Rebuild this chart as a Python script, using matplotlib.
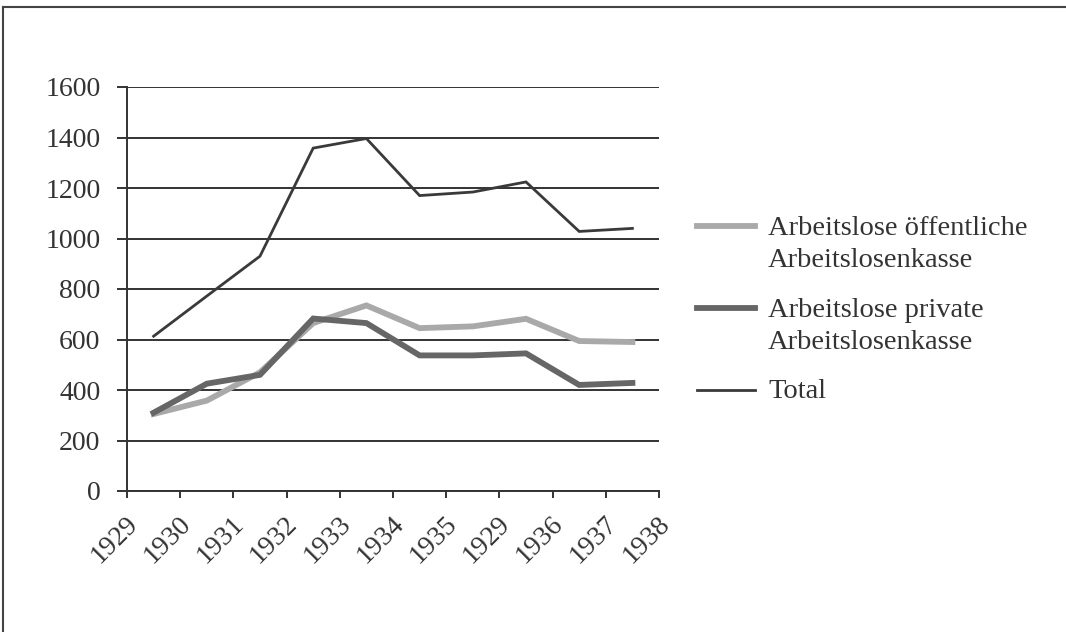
import numpy as np
import matplotlib
matplotlib.use("Agg")
import matplotlib.pyplot as plt
from matplotlib.lines import Line2D
from matplotlib.transforms import ScaledTranslation

# values (thousands); one point per category
tick_labels = ["1929", "1930", "1931", "1932", "1933", "1934", "1935",
               "1929", "1936", "1937", "1938"]
public = [305, 358, 470, 665, 735, 645, 652, 682, 594, 590]
private = [310, 425, 460, 683, 665, 537, 537, 545, 420, 428]
total = [613, 772, 930, 1358, 1396, 1170, 1184, 1224, 1028, 1040]

series_names = [["Arbeitslose öffentliche", "Arbeitslosenkasse"],
                ["Arbeitslose private", "Arbeitslosenkasse"],
                ["Total"]]
colors = ["#a9a9a9", "#666666", "#3a3a3a"]
widths = [4.2, 4.2, 2.0]

plt.rcParams["font.family"] = ["Liberation Serif", "DejaVu Serif"]
text_col = "#333333"

W, H = 1066, 632
fig = plt.figure(figsize=(W / 100, H / 100), dpi=100)
ax = fig.add_axes([127 / W, 1 - 491 / H, 532 / W, 404 / H])

x = np.arange(len(total)) + 0.5
for vals, c, lw in zip([public, private, total], colors, widths):
    ax.plot(x, vals, color=c, lw=lw, solid_joinstyle="miter", zorder=3)

ax.set_xlim(0, len(tick_labels) - 1)
ax.set_ylim(0, 1600)
ax.set_yticks(np.arange(0, 1601, 200))
ax.set_xticks(np.arange(len(tick_labels)))
ax.set_xticklabels([])
# rotated year labels, ending a little right of each tick
lbl_trans = ax.get_xaxis_transform() + ScaledTranslation(7 / 100, -29 / 100,
                                                         fig.dpi_scale_trans)
for i, lbl in enumerate(tick_labels):
    ax.text(i, 0, lbl, transform=lbl_trans, rotation=45, rotation_mode="anchor",
            ha="right", va="center", fontsize=20, color=text_col)
ax.yaxis.grid(True, color="#333333", lw=1.4)
ax.set_axisbelow(True)
for s in ["top", "right"]:
    ax.spines[s].set_visible(False)
for s in ["left", "bottom"]:
    ax.spines[s].set_color("#333333")
    ax.spines[s].set_linewidth(1.4)
ax.tick_params(axis="y", length=7, width=1.4, color="#333333",
               labelsize=20, labelcolor=text_col, pad=12)
ax.tick_params(axis="x", length=5, width=1.4, color="#333333")

# legend drawn by hand so the marker sits on the first text line
handle_y = [226, 308, 390]
base_y = [235, 317, 398]
line_step = 32
for lines, c, lw, hy, by in zip(series_names, colors, widths, handle_y, base_y):
    fig.add_artist(Line2D([697 / W, 755 / W], [1 - hy / H, 1 - hy / H],
                          color=c, lw=lw, transform=fig.transFigure))
    for i, txt in enumerate(lines):
        fig.text(768 / W, 1 - (by + i * line_step) / H, txt, fontsize=20.5,
                 color=text_col, va="baseline", ha="left")

# frame around the picture (left and top edges visible)
fig.add_artist(Line2D([3 / W, 3 / W], [0, 1 - 7 / H], color="#444444",
                      lw=1.5, transform=fig.transFigure))
fig.add_artist(Line2D([3 / W, 1], [1 - 7 / H, 1 - 7 / H], color="#444444",
                      lw=1.5, transform=fig.transFigure))

fig.savefig("out.png", dpi=100)
